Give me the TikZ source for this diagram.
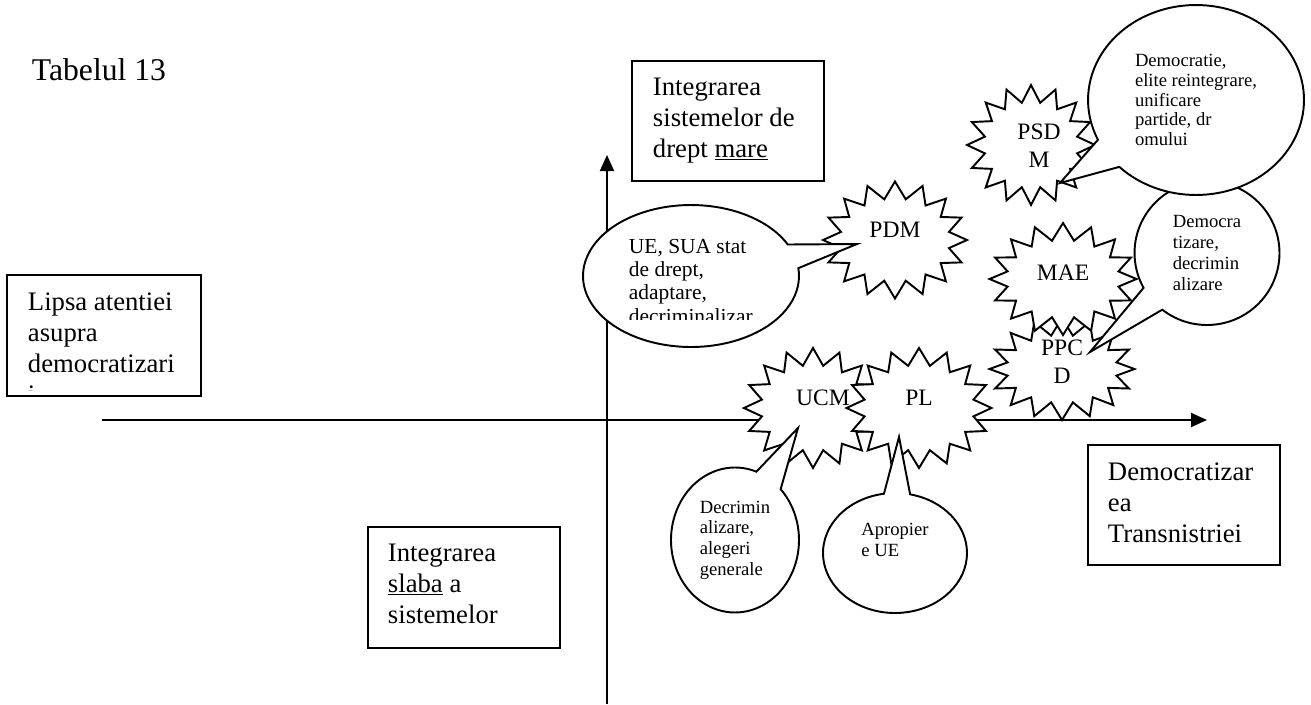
\documentclass[tikz,border=0pt]{standalone}
\usepackage{fontspec}
\setmainfont{Liberation Serif}
\usetikzlibrary{arrows.meta,shapes.symbols,shapes.callouts}

\begin{document}
\begin{tikzpicture}[x=0.02cm,y=-0.02cm,line width=1.1pt,
        frame/.style={draw,rectangle,inner sep=0pt,anchor=north west},
        boxtext/.style={anchor=base west,align=left,inner sep=0pt,font=\fontsize{15.2}{17.6}\selectfont},
        burst/.style={starburst,starburst points=16,starburst point height=0.34cm,random starburst=0,
            draw,fill=white,inner sep=0pt,align=center,text height=0pt,font=\fontsize{13.4}{15.4}\selectfont},
        note/.style={ellipse callout,draw,fill=white,inner sep=0pt,align=left,font=\fontsize{10.6}{11.8}\selectfont},
        axis/.style={-{Triangle[length=0.32cm,width=0.28cm]}}]
        \useasboundingbox (0,0) rectangle (1311,704);
        % axes
        \draw[axis] (102,420) -- (1207,420);
        \draw[axis] (607,704) -- (607,155);
        \node[anchor=base west,inner sep=0pt,font=\fontsize{18}{21}\selectfont] (title) at (31,80) {Tabelul 13};
        % text boxes (anchored at the last baseline)
        \begin{scope}
            \clip (6,274) rectangle (200,390);
            \node[boxtext] (lipsatext) at (27,403) {Lipsa atentiei\\asupra\\democratizari\\i};
        \end{scope}
        \node[frame,minimum width=3.88cm,minimum height=2.42cm] (lipsa) at (6,274) {};
        \node[frame,minimum width=3.84cm,minimum height=2.4cm] (mare) at (631,60) {};
        \node[boxtext] (maretext) at (652,157) {Integrarea\\sistemelor de\\drept \underline{mare}};
        \node[frame,minimum width=3.84cm,minimum height=2.42cm] (slaba) at (367,526) {};
        \node[boxtext] (slabatext) at (387,623) {Integrarea\\\underline{slaba} a\\sistemelor};
        \node[frame,minimum width=3.84cm,minimum height=2.4cm] (trans) at (1087,444) {};
        \node[boxtext] (transtext) at (1107,542) {Democratizar\\ea\\Transnistriei};
        % PDM
        \node[burst,minimum width=2.88cm,minimum height=2.34cm,text depth=0.12cm] (pdm) at (895,240) {PDM};
        \node[note,minimum width=4.32cm,minimum height=2.84cm,callout pointer arc=20,
            callout absolute pointer={(857,244)}] (pdmnote) at (691,276) {};
        \begin{scope}
            \clip (600,230) rectangle (780,319);
            \node[anchor=base west,align=left,inner sep=0pt,font=\fontsize{12.2}{13.1}\selectfont] (pdmtext) at (628,323)
                {UE, SUA stat\\de drept,\\adaptare,\\decriminalizar};
        \end{scope}
        % PSDM, PPCD, MAE
        \node[burst,minimum width=2.56cm,minimum height=2.4cm,text height=0.88cm,text depth=0pt] (psdm) at (1031,145)
            {\hspace*{0.32cm}PSD\\\hspace*{0.32cm}M};
        \node[burst,minimum width=2.9cm,minimum height=2.04cm,text height=0.56cm,text depth=0pt] (ppcd) at (1062,369) {PPC\\D};
        \node[burst,minimum width=2.94cm,minimum height=2.24cm,text height=0.04cm,text depth=0pt] (mae) at (1063,279) {MAE};
        \node[note,minimum width=2.9cm,minimum height=2.88cm,callout pointer arc=23,
            callout absolute pointer={(1090,352)}] (maenote) at (1207,253) {Democra\\tizare,\\decrimin\\alizare};
        \node[note,minimum width=4.32cm,minimum height=3.8cm,callout pointer arc=20,
            font=\fontsize{10.6}{11.24}\selectfont,
            callout absolute pointer={(1060,183)}] (psdmnote) at (1196,100)
            {Democratie,\\elite reintegrare,\\unificare\\partide, dr\\omului};
        % UCM, PL
        \node[burst,minimum width=2.48cm,minimum height=2.4cm,text depth=0.12cm] (ucm) at (813,408) {\hspace*{0.4cm}UCM};
        \node[burst,minimum width=2.9cm,minimum height=2.4cm,text depth=0.12cm] (pl) at (919,408) {PL};
        \node[note,minimum width=2.56cm,minimum height=2.9cm,callout pointer arc=26,
            callout absolute pointer={(798,428)}] (ucmnote) at (735,540) {Decrimin\\alizare,\\alegeri\\generale};
        \node[note,minimum width=2.88cm,minimum height=2.4cm,callout pointer arc=21,text height=0.12cm,text depth=0pt,
            callout absolute pointer={(899,437)}] (plnote) at (895,553) {Apropier\\e UE};
\end{tikzpicture}
\end{document}
